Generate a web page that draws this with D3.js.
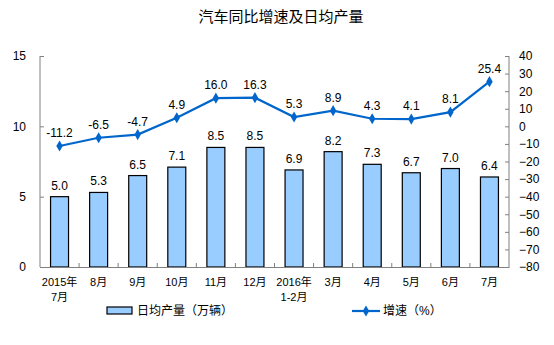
<!DOCTYPE html>
<html><head><meta charset="utf-8">
<script src="https://cdn.jsdelivr.net/npm/d3@7"></script>
<style>body{margin:0;background:#fff}svg{display:block}text{font-family:"Liberation Sans","Noto Sans CJK SC",sans-serif}</style>
</head><body>
<script>
const categories = ["2015年|7月","8月","9月","10月","11月","12月","2016年|1-2月","3月","4月","5月","6月","7月"];
const dailyOutput = [5.0,5.3,6.5,7.1,8.5,8.5,6.9,8.2,7.3,6.7,7.0,6.4];
const growth = [-11.2,-6.5,-4.7,4.9,16.0,16.3,5.3,8.9,4.3,4.1,8.1,25.4];
const leftTicks = [0,5,10,15];
const rightTicks = [40,30,20,10,0,-10,-20,-30,-40,-50,-60,-70,-80];
const titleText = "汽车同比增速及日均产量";
const legendBar = "日均产量（万辆）";
const legendLine = "增速（%）";

const W=554,H=345;
const m={l:40,r:509,t:56,b:267};
const svg=d3.select("body").append("svg").attr("width",W).attr("height",H);
const x=d3.scaleBand().domain(d3.range(categories.length)).range([m.l,m.r]);
const yL=d3.scaleLinear().domain([0,15]).range([m.b,m.t]);
const yR=d3.scaleLinear().domain([-80,40]).range([m.b,m.t]);
const blue="#0066CC", barFill="#99CCFF", axisC="#808080";

svg.append("text").attr("x",281).attr("y",22).attr("text-anchor","middle")
 .attr("font-size",15).attr("font-family","Noto Sans CJK SC").text(titleText);

// bars
const bw=x.bandwidth()*0.46;
svg.selectAll("rect.bar").data(dailyOutput).join("rect").attr("class","bar")
 .attr("x",(d,i)=>x(i)+x.bandwidth()/2-bw/2).attr("y",d=>yL(d))
 .attr("width",bw).attr("height",d=>yL(0)-yL(d))
 .attr("fill",barFill).attr("stroke","#000").attr("stroke-width",1.2);
svg.selectAll("text.bl").data(dailyOutput).join("text").attr("class","bl")
 .attr("x",(d,i)=>x(i)+x.bandwidth()/2).attr("y",d=>yL(d)-7)
 .attr("text-anchor","middle").attr("font-size",12).text(d=>d.toFixed(1));

// axes
const gL=svg.append("g").attr("transform",`translate(${m.l},0)`)
 .call(d3.axisLeft(yL).tickValues(leftTicks).tickSize(-4).tickPadding(14));
const gR=svg.append("g").attr("transform",`translate(${m.r},0)`)
 .call(d3.axisRight(yR).tickValues(rightTicks).tickSize(-4).tickPadding(10));
const gB=svg.append("g").attr("transform",`translate(0,${m.b})`)
 .call(d3.axisBottom(x).tickValues([]).tickSizeOuter(0));
gB.selectAll(".bt").data(d3.range(1,categories.length)).join("line").attr("class","bt")
 .attr("x1",i=>x(i)).attr("x2",i=>x(i)).attr("y1",0).attr("y2",-4).attr("stroke",axisC);
[gL,gR,gB].forEach(g=>{g.select(".domain").attr("stroke",axisC);g.selectAll(".tick line").attr("stroke",axisC);
 g.selectAll(".tick text").attr("font-size",12).attr("fill","#000").attr("font-family","Liberation Sans");});
gL.select(".domain").attr("d",`M0,${m.t}V${m.b}`);
gR.select(".domain").attr("d",`M0,${m.t}V${m.b}`);

// category labels
categories.forEach((c,i)=>{
 const parts=c.split("|");
 parts.forEach((p,j)=>svg.append("text").attr("x",x(i)+x.bandwidth()/2).attr("y",286+j*15)
  .attr("text-anchor","middle").attr("font-size",11).attr("font-family","Noto Sans CJK SC").text(p));
});

// line
const cx=i=>x(i)+x.bandwidth()/2;
svg.append("path").datum(growth).attr("fill","none").attr("stroke",blue).attr("stroke-width",2.2)
 .attr("d",d3.line().x((d,i)=>cx(i)).y(d=>yR(d)));
const diamond=d3.symbol().type(d3.symbolDiamond).size(36);
svg.selectAll("path.mk").data(growth).join("path").attr("class","mk")
 .attr("transform",(d,i)=>`translate(${cx(i)},${yR(d)})`).attr("d",diamond).attr("fill",blue);
svg.selectAll("text.ll").data(growth).join("text").attr("class","ll")
 .attr("x",(d,i)=>cx(i)).attr("y",d=>yR(d)-9).attr("text-anchor","middle")
 .attr("font-size",12).text(d=>d.toFixed(1));

// legend
svg.append("rect").attr("x",107).attr("y",307).attr("width",25).attr("height",7)
 .attr("fill",barFill).attr("stroke","#000").attr("stroke-width",1.2);
svg.append("text").attr("x",137).attr("y",315).attr("font-size",12).attr("font-family","Noto Sans CJK SC").text(legendBar);
svg.append("line").attr("x1",352).attr("x2",380).attr("y1",311).attr("y2",311).attr("stroke",blue).attr("stroke-width",2.2);
svg.append("path").attr("transform","translate(366,311)").attr("d",diamond).attr("fill",blue);
svg.append("text").attr("x",383).attr("y",315).attr("font-size",12).attr("font-family","Noto Sans CJK SC").text(legendLine);
</script>
</body></html>
